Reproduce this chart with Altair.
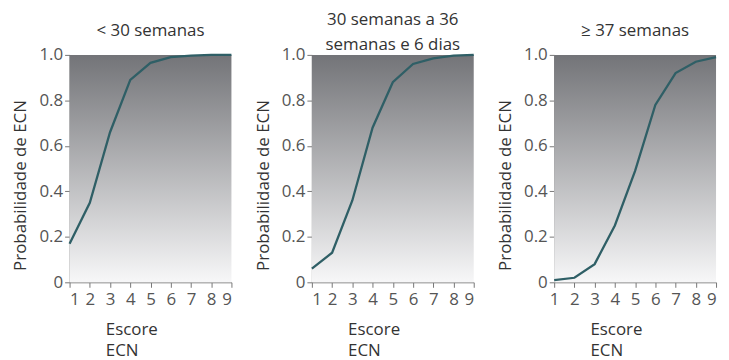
import altair as alt
import pandas as pd

escore = [1, 2, 3, 4, 5, 6, 7, 8, 9]
prob_lt30 = [0.17, 0.35, 0.66, 0.89, 0.965, 0.99, 0.997, 1.0, 1.0]
prob_30_36 = [0.06, 0.13, 0.36, 0.68, 0.88, 0.96, 0.985, 0.997, 1.0]
prob_ge37 = [0.01, 0.02, 0.08, 0.25, 0.49, 0.78, 0.92, 0.97, 0.99]
titles = [["< 30 semanas"], ["30 semanas a 36", "semanas e 6 dias"], ["≥ 37 semanas"]]
title_offsets = [6, -8, 6]
y_ticks = [0, 0.2, 0.4, 0.6, 0.8, 1.0]

FONT = "Open Sans"
W, H = 163, 229

gradient = alt.LinearGradient(
    gradient="linear",
    x1=0, x2=0, y1=0, y2=1,
    stops=[
        alt.GradientStop(offset=0, color="#737478"),
        alt.GradientStop(offset=1, color="#f7f7f8"),
    ],
)

bg_df = pd.DataFrame({"x0": [escore[0]], "x1": [escore[-1]], "y0": [y_ticks[0]], "y1": [y_ticks[-1]]})


def x_axis(last_right):
    kw = {}
    if last_right:
        kw["labelAlign"] = {"condition": {"test": "datum.value == 9", "value": "right"}, "value": "center"}
    return alt.Axis(
        values=escore,
        format="d",
        title=["Escore", "ECN"],
        titleAlign="left",
        titleAnchor="start",
        titleX=36,
        titleY=40,
        titleBaseline="top",
        titleLineHeight=21,
        labelPadding=4,
        **kw,
    )


y_axis = alt.Axis(
    values=y_ticks,
    labelExpr="datum.value == 0 ? '0' : format(datum.value, '.1f')",
    title="Probabilidade de ECN",
    titleFontSize=17,
    titleAngle=-90,
    titleAlign="center",
    titleBaseline="middle",
    titleX=-49,
    titleY=131,
)


def panel(values, title, off, last_right):
    df = pd.DataFrame({"escore": escore, "prob": values})
    xscale = alt.Scale(domain=[1, 9], nice=False)
    yscale = alt.Scale(domain=[0, 1], nice=False)
    xa = x_axis(last_right)
    bg = alt.Chart(bg_df).mark_rect(color=gradient).encode(
        x=alt.X("x0:Q", scale=xscale, axis=xa),
        x2="x1:Q",
        y=alt.Y("y0:Q", scale=yscale, axis=y_axis),
        y2="y1:Q",
    )
    line = alt.Chart(df).mark_line(color="#2f5f66", strokeWidth=2.3).encode(
        x=alt.X("escore:Q", scale=xscale, axis=xa),
        y=alt.Y("prob:Q", scale=yscale, axis=y_axis),
    )
    return alt.layer(bg, line).properties(
        width=W,
        height=H,
        title=alt.TitleParams(text=title, offset=off, fontSize=17, font=FONT,
                              fontWeight="normal", color="#333333", lineHeight=25,
                              frame="group"),
    )


series = [prob_lt30, prob_30_36, prob_ge37]
charts = [panel(v, t, o, i == 2) for i, (v, t, o) in enumerate(zip(series, titles, title_offsets))]

chart = alt.hconcat(*charts, spacing=81, bounds="flush").properties(
    padding={"left": 3, "top": 2, "right": 0, "bottom": 0}
).configure_view(
    stroke=None,
).configure_axis(
    grid=False,
    domainColor="#777777",
    tickColor="#777777",
    tickSize=5,
    labelFont=FONT,
    labelFontSize=17,
    labelColor="#555555",
    titleFont=FONT,
    titleFontSize=17,
    titleFontWeight="normal",
    titleColor="#333333",
)

chart.save("out.html", embed_options={"renderer": "svg", "actions": False})
